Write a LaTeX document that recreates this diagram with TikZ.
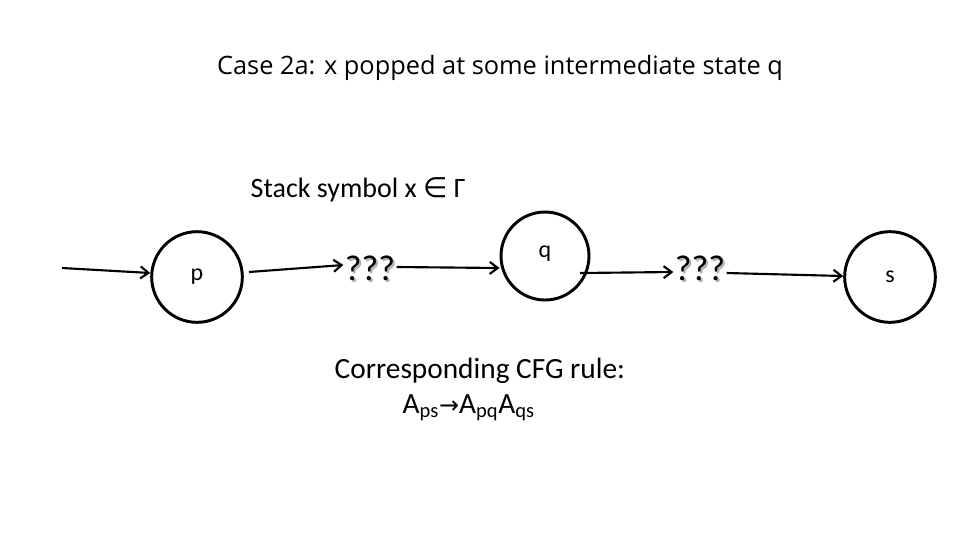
\documentclass[tikz,border=0pt]{standalone}
\usepackage{fontspec}
\setmainfont{Carlito}
\newfontfamily\titlefont{Open Sans}
\newfontfamily\symfont{DejaVu Sans}
\usetikzlibrary{arrows.meta,shadows}
\begin{document}
\begin{tikzpicture}[x=0.75pt,y=-0.75pt,
  st/.style={circle,draw,line width=2.2pt,minimum size=68pt,inner sep=0pt,font=\fontsize{18}{20}\selectfont},
  ar/.style={line width=1.6pt,-{Straight Barb[length=6pt,width=9pt,line width=1.6pt]}},
  qq/.style={font=\fontsize{27}{30}\selectfont,inner sep=1pt}]
\useasboundingbox (0,0) rectangle (960,540);
\node[font=\titlefont\fontsize{19}{22}\selectfont] (title) at (500,68) {Case 2a: x popped at some intermediate state q};
\node[font=\fontsize{21}{24}\selectfont,anchor=west] (stk) at (246,190) {Stack symbol x {\symfont ∈} Γ};
\node[st] (p) at (197,277) {p};
\node[st,minimum size=66pt,text depth=0pt] (q) at (545,256) {\raisebox{6pt}{q}};
\node[st] (s) at (890,277) {s};
\node[qq,text=gray!60] at (372,270) {???};
\node[qq] (u1) at (370,268) {???};
\node[qq,text=gray!60] at (702,270) {???};
\node[qq] (u2) at (700,268) {???};
\coordinate (in) at (62,268);
\draw[ar] (in) -- (p.west |- 0,273);
\draw[ar] (249,272) -- (u1.west |- 0,265);
\draw[ar] (u1.east |- 0,267) -- (q.west |- 0,268);
\draw[ar] (580,273) -- (u2.west |- 0,272);
\draw[ar] (u2.east |- 0,273) -- (s.west |- 0,276);
\node[font=\fontsize{22}{25}\selectfont,anchor=west] (cfg) at (330,371) {Corresponding CFG rule:};
\node[font=\fontsize{22}{25}\selectfont,anchor=west] (rule) at (398,408) {A\textsubscript{ps}{\symfont\fontsize{18}{20}\selectfont →}A\textsubscript{pq}A\textsubscript{qs}};
\end{tikzpicture}
\end{document}
